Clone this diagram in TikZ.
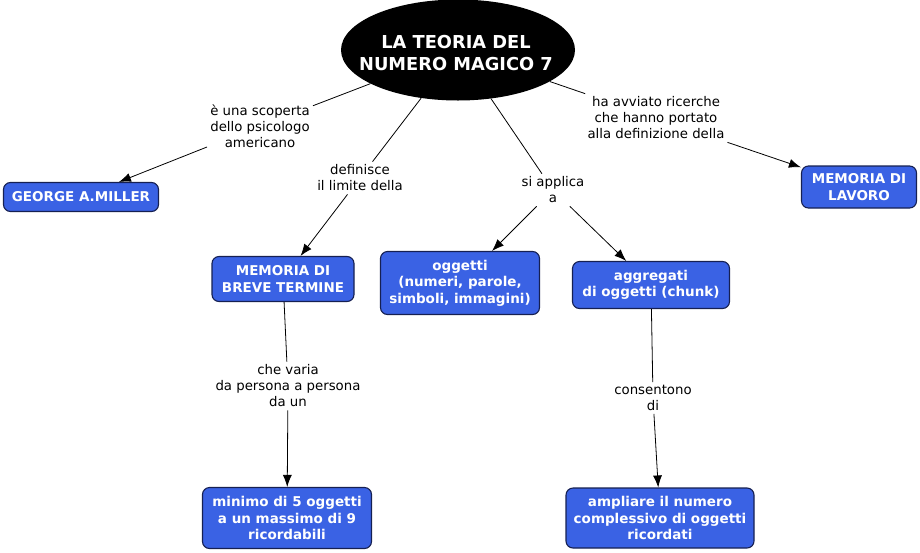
\documentclass[tikz,border=0pt]{standalone}
\usepackage{fontspec}
\setmainfont{DejaVu Sans}
\usetikzlibrary{arrows.meta,shapes.geometric,positioning}
\definecolor{bluBox}{RGB}{58,98,228}
\definecolor{bordoBox}{RGB}{22,32,82}
\tikzset{
  concetto/.style={draw=bordoBox,fill=bluBox,line width=1.1pt,rounded corners=7pt,
    text=white,font=\bfseries\fontsize{13.5}{16.5}\selectfont,align=center,inner sep=2pt},
  frase/.style={font=\fontsize{13.3}{16}\selectfont,align=center,inner sep=3pt},
  linea/.style={line width=0.8pt},
  freccia/.style={linea,-{Latex[length=12pt,width=9pt]}}
}
\begin{document}
\begin{tikzpicture}[x=1pt,y=-1pt]
\useasboundingbox (0,0) rectangle (920,552);
%concetto principale
\node[ellipse,fill=black,minimum width=234pt,minimum height=101pt,inner sep=0pt] (teoria) at (458,50) {};
\node[text=white,font=\bfseries\fontsize{17.8}{21.5}\selectfont,align=center] (titolo) at (456,53) {LA TEORIA DEL\\NUMERO MAGICO 7};
%concetti
\node[concetto,minimum width=155pt,minimum height=29pt] (miller) at (81,197) {GEORGE A.MILLER};
\node[concetto,minimum width=142pt,minimum height=45pt] (breve) at (283,279) {MEMORIA DI\\BREVE TERMINE};
\node[concetto,minimum width=159pt,minimum height=63pt] (oggetti) at (460,283) {oggetti\\(numeri, parole,\\simboli, immagini)};
\node[concetto,minimum width=157pt,minimum height=47pt] (aggregati) at (651,285) {aggregati\\di oggetti (chunk)};
\node[concetto,minimum width=115pt,minimum height=42pt] (lavoro) at (859,187) {MEMORIA DI\\LAVORO};
\node[concetto,minimum width=169pt,minimum height=61pt] (minimo) at (287,518) {minimo di 5 oggetti\\a un massimo di 9\\ricordabili};
\node[concetto,minimum width=188pt,minimum height=60pt] (ampliare) at (660,518) {ampliare il numero\\complessivo di oggetti\\ricordati};
%frasi di collegamento
\node[frase] (scoperta) at (260,126) {è una scoperta\\dello psicologo\\americano};
\node[frase] (definisce) at (360,178) {definisce\\il limite della};
\node[frase] (applica) at (553,190) {si applica\\a};
\node[frase] (avviato) at (656,118) {ha avviato ricerche\\che hanno portato\\alla definizione della};
\node[frase] (varia) at (288,386) {che varia\\da persona a persona\\da un};
\node[frase] (consentono) at (653,398) {consentono\\di};
%collegamenti
\draw[linea] (teoria) -- (scoperta);
\draw[freccia] (scoperta) -- (miller);
\draw[linea] (teoria) -- (definisce);
\draw[freccia] (definisce) -- (breve);
\draw[linea] (teoria) -- (applica);
\draw[freccia] (applica) -- (oggetti);
\draw[freccia] (applica) -- (aggregati);
\draw[linea] (teoria) -- (avviato);
\draw[freccia] (avviato) -- (lavoro);
\draw[linea] (breve) -- (varia);
\draw[freccia] (varia) -- (minimo);
\draw[linea] (aggregati) -- (consentono);
\draw[freccia] (consentono) -- (ampliare);
\end{tikzpicture}
\end{document}
